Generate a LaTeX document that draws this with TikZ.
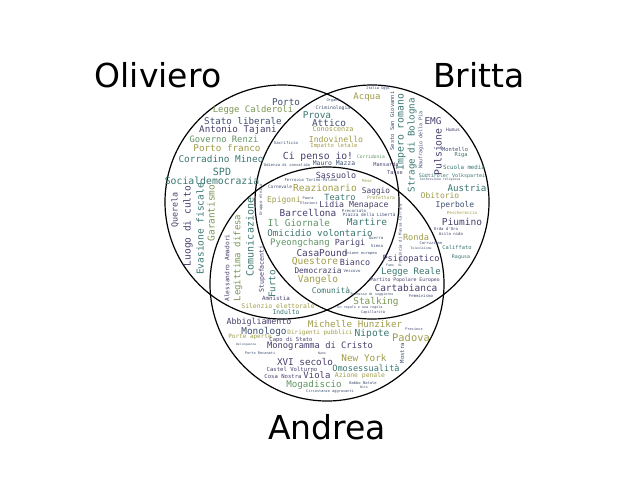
\documentclass[tikz,border=0pt]{standalone}
\usepackage{fontspec}
\setmainfont{DejaVu Sans}
\newfontfamily\wf{DejaVu Sans Mono}
\definecolor{cPur}{RGB}{72,62,108}
\definecolor{cBlu}{RGB}{62,78,112}
\definecolor{cTeal}{RGB}{58,118,112}
\definecolor{cGrn}{RGB}{96,148,100}
\definecolor{cOli}{RGB}{158,156,72}
\definecolor{cOlg}{RGB}{122,150,84}
\newcounter{wc}
\newcommand\wrd[6][0]{\stepcounter{wc}\node[wrdst,name=w\arabic{wc},rotate=#1,text=#5,font=\wf\fontsize{#4}{#4}\selectfont] at (#2,#3) {#6};}
\begin{document}
\begin{tikzpicture}[x=0.5pt,y=-0.5pt,
  wrdst/.style={inner sep=0pt,anchor=center},
  circ/.style={draw=black,line width=0.6pt},
  lbl/.style={font=\fontsize{16.5}{18}\selectfont,inner sep=0pt}]
\useasboundingbox (0,0) rectangle (640,480);
\draw[circ] (282,202) circle[radius=58.5pt];
\draw[circ] (372,202) circle[radius=58.5pt];
\draw[circ] (327,284) circle[radius=58.5pt];
\node[lbl] (lo) at (158,75) {Oliviero};
\node[lbl] (lb) at (479,75) {Britta};
\node[lbl] (la) at (327,427) {Andrea};
% Oliviero only
\wrd{286}{102}{4.65}{cBlu}{Porto}
\wrd{253}{110}{4.45}{cOlg}{Legge Calderoli}
\wrd{243}{121}{4.6}{cBlu}{Stato liberale}
\wrd{238}{130}{4.6}{cPur}{Antonio Tajani}
\wrd{224}{139.5}{4.4}{cGrn}{Governo Renzi}
\wrd{227}{148.5}{4.65}{cOli}{Porto franco}
\wrd{221}{159}{4.7}{cTeal}{Corradino Mineo}
\wrd{222}{172}{5}{cTeal}{SPD}
\wrd{212}{181}{4.9}{cTeal}{Socialdemocrazia}
\wrd[90]{175}{210}{4.2}{cPur}{Querela}
\wrd[90]{188}{226}{4.75}{cPur}{Luogo di culto}
\wrd[90]{200}{229}{4.75}{cTeal}{Evasione fiscale}
\wrd[90]{211}{213}{4.7}{cOlg}{Garantismo}
\wrd{286}{143}{2}{cBlu}{Sacrificio}
\wrd{287}{165}{1.9}{cBlu}{Udienza di convalida}
\wrd[90]{261}{200}{2}{cBlu}{Gruppo etnico}
% Oliviero & Britta
\wrd{333}{101}{1.8}{cBlu}{Organi}
\wrd{333}{108}{2.4}{cBlu}{Criminologia}
\wrd{317}{115}{4.7}{cTeal}{Prova}
\wrd{329}{123}{4.7}{cBlu}{Attico}
\wrd{333}{129.5}{3.4}{cOli}{Conoscenza}
\wrd{336}{139}{4.1}{cOli}{Indovinello}
\wrd{334}{146}{2.8}{cOli}{Impatto letale}
\wrd{318}{157}{4.85}{cPur}{Ci penso io!}
\wrd{334}{163.5}{3.2}{cBlu}{Mauro Mazza}
\wrd{371}{157}{2.3}{cGrn}{Corridonia}
\wrd{386}{165}{2.6}{cPur}{Mansarda}
\wrd{395}{173}{2.6}{cPur}{Tasse}
\wrd{367}{97}{4.5}{cOli}{Acqua}
\wrd{378}{89}{1.8}{cBlu}{Italia Oggi}
% Britta only
\wrd[90]{392}{121}{2.7}{cBlu}{Sesto San Giovanni}
\wrd[90]{401}{132}{4.9}{cTeal}{Impero romano}
\wrd[90]{412}{145}{4.6}{cTeal}{Strage di Bologna}
\wrd[90]{421}{140}{2.5}{cBlu}{Naufragio della Pia}
\wrd{433}{121}{4.7}{cPur}{EMG}
\wrd{453}{130}{2.3}{cPur}{Humus}
\wrd[90]{438}{152}{4.9}{cPur}{Pulsione}
\wrd{455}{149}{2.7}{cBlu}{Montello}
\wrd{461}{155}{2.7}{cTeal}{Riga}
\wrd{464}{167}{2.9}{cTeal}{Scuola media}
\wrd{452}{176}{2.5}{cTeal}{Südtiroler Volkspartei}
\wrd{440}{180}{1.6}{cBlu}{Confessione religiosa}
\wrd{467}{188}{4.6}{cTeal}{Austria}
\wrd{440}{195.5}{4}{cOli}{Obitorio}
\wrd{455}{205}{4}{cBlu}{Iperbole}
\wrd{462}{213}{2.1}{cOli}{Peschereccio}
\wrd{462}{222}{4.75}{cPur}{Piumino}
\wrd{446}{229}{2}{cPur}{Orda d'Oro}
\wrd{451}{234}{2}{cPur}{Asilo nido}
\wrd{457}{247}{2.7}{cTeal}{Califfato}
\wrd{461}{257}{2.5}{cTeal}{Ragusa}
% Britta & Andrea
\wrd{416}{237}{4.3}{cOli}{Ronda}
\wrd{431}{243}{1.9}{cBlu}{Corruzione}
\wrd{421}{248.5}{1.6}{cBlu}{Televisione}
\wrd[90]{400}{235}{2}{cBlu}{Provincia di Massa-Carrara}
\wrd{411}{259}{4.3}{cPur}{Psicopatico}
\wrd{390}{265.5}{1.6}{cBlu}{Fumo}
\wrd{411}{272}{4.5}{cTeal}{Legge Reale}
\wrd{405}{280}{2.4}{cPur}{Partito Popolare Europeo}
\wrd{406}{288}{4.75}{cPur}{Cartabianca}
\wrd{372}{294.5}{1.7}{cBlu}{Permesso di soggiorno}
\wrd{421}{296}{2}{cBlu}{Femminismo}
\wrd{376}{302}{4.7}{cOlg}{Stalking}
\wrd{360}{307.5}{1.7}{cBlu}{Un regalo e una regola}
\wrd{373}{312}{1.8}{cBlu}{Capillarità}
% centre
\wrd{311}{180}{2}{cBlu}{Ferrovia Torino-Milano}
\wrd{336}{175}{4.2}{cPur}{Sassuolo}
\wrd{280}{187}{2.2}{cBlu}{Carnevale}
\wrd{325}{188}{4.8}{cOli}{Reazionario}
\wrd{284}{200}{4}{cOli}{Epigoni}
\wrd{308}{198}{1.8}{cBlu}{Paura}
\wrd{309}{203}{1.8}{cBlu}{Elezioni}
\wrd{340}{197}{4.3}{cTeal}{Teatro}
\wrd{354}{205}{4.1}{cPur}{Lidia Menapace}
\wrd{308}{213}{4.7}{cPur}{Barcellona}
\wrd{354}{211}{2}{cBlu}{Precariato}
\wrd{369}{214.5}{2.2}{cBlu}{Piazza della Libertà}
\wrd{376}{191.5}{3.9}{cPur}{Saggio}
\wrd{381}{197.5}{2.3}{cOli}{Prefettura}
\wrd{367}{181}{2}{cOli}{Mese}
\wrd{299}{223}{4.7}{cGrn}{Il Giornale}
\wrd{367}{222}{4.75}{cTeal}{Martire}
\wrd{320}{233}{4.6}{cTeal}{Omicidio volontario}
\wrd{300}{243}{4.5}{cGrn}{Pyeongchang}
\wrd{350}{243}{4.2}{cPur}{Parigi}
\wrd{376}{238}{2}{cBlu}{Guerra}
\wrd{377}{246}{2}{cBlu}{Siena}
\wrd{322}{253}{4.7}{cPur}{CasaPound}
\wrd{361}{253}{1.9}{cBlu}{Unione europea}
\wrd{315}{262}{4.8}{cOli}{Questore}
\wrd{355}{262}{4.2}{cPur}{Bianco}
\wrd{318}{271}{3.9}{cPur}{Democrazia}
\wrd{352}{271}{2}{cBlu}{Vescovo}
\wrd{318}{280}{4.75}{cOli}{Vangelo}
\wrd{331}{290}{3.95}{cTeal}{Comunità}
% Oliviero & Andrea
\wrd[90]{227}{268}{3.1}{cPur}{Alessandro Amadori}
\wrd[90]{238}{258}{4.5}{cOlg}{Legittima difesa}
\wrd[90]{250}{237}{5}{cTeal}{Comunicazione}
\wrd[90]{262}{269}{3.3}{cPur}{Stupefacenti}
\wrd[90]{272}{284}{4.6}{cTeal}{Furto}
\wrd{276}{298}{2.9}{cPur}{Amnistia}
\wrd{278}{306}{3.2}{cOli}{Silenzio elettorale}
\wrd{286}{312.5}{3.2}{cTeal}{Indulto}
% Andrea only
\wrd{259}{322}{4.15}{cPur}{Abbigliamento}
\wrd{355}{324}{4.6}{cOli}{Michelle Hunziker}
\wrd{264}{332}{4.7}{cBlu}{Monologo}
\wrd{320}{333}{3}{cOli}{Dirigenti pubblici}
\wrd{372}{334}{4.8}{cTeal}{Nipote}
\wrd{411}{338}{5.2}{cOli}{Padova}
\wrd{414}{329}{1.8}{cBlu}{Precious}
\wrd{250}{337}{3}{cOli}{Porte aperte}
\wrd{291}{340}{2.75}{cPur}{Capo di Stato}
\wrd{320}{346}{4.4}{cPur}{Monogramma di Cristo}
\wrd{246}{345}{1.5}{cBlu}{Delinquenza}
\wrd{260}{353}{1.8}{cBlu}{Porto Recanati}
\wrd{322}{353}{1.6}{cBlu}{Nano}
\wrd{305}{362}{4.65}{cPur}{XVI secolo}
\wrd{364}{358}{4.7}{cOli}{New York}
\wrd[90]{402}{353}{2.8}{cBlu}{Mostra}
\wrd{366}{368}{4.3}{cTeal}{Omosessualità}
\wrd{292}{369}{2.8}{cPur}{Castel Volturno}
\wrd{283}{376}{2.8}{cPur}{Cosa Nostra}
\wrd{317}{375}{4.5}{cPur}{Viola}
\wrd{360}{376}{3.2}{cOli}{Azione penale}
\wrd{314}{385}{4.6}{cGrn}{Mogadiscio}
\wrd{363}{383}{1.9}{cBlu}{Babbo Natale}
\wrd{364}{387.5}{1.6}{cBlu}{Nito}
\wrd{330}{392}{1.8}{cBlu}{Circostanze aggravanti}
\end{tikzpicture}
\end{document}
